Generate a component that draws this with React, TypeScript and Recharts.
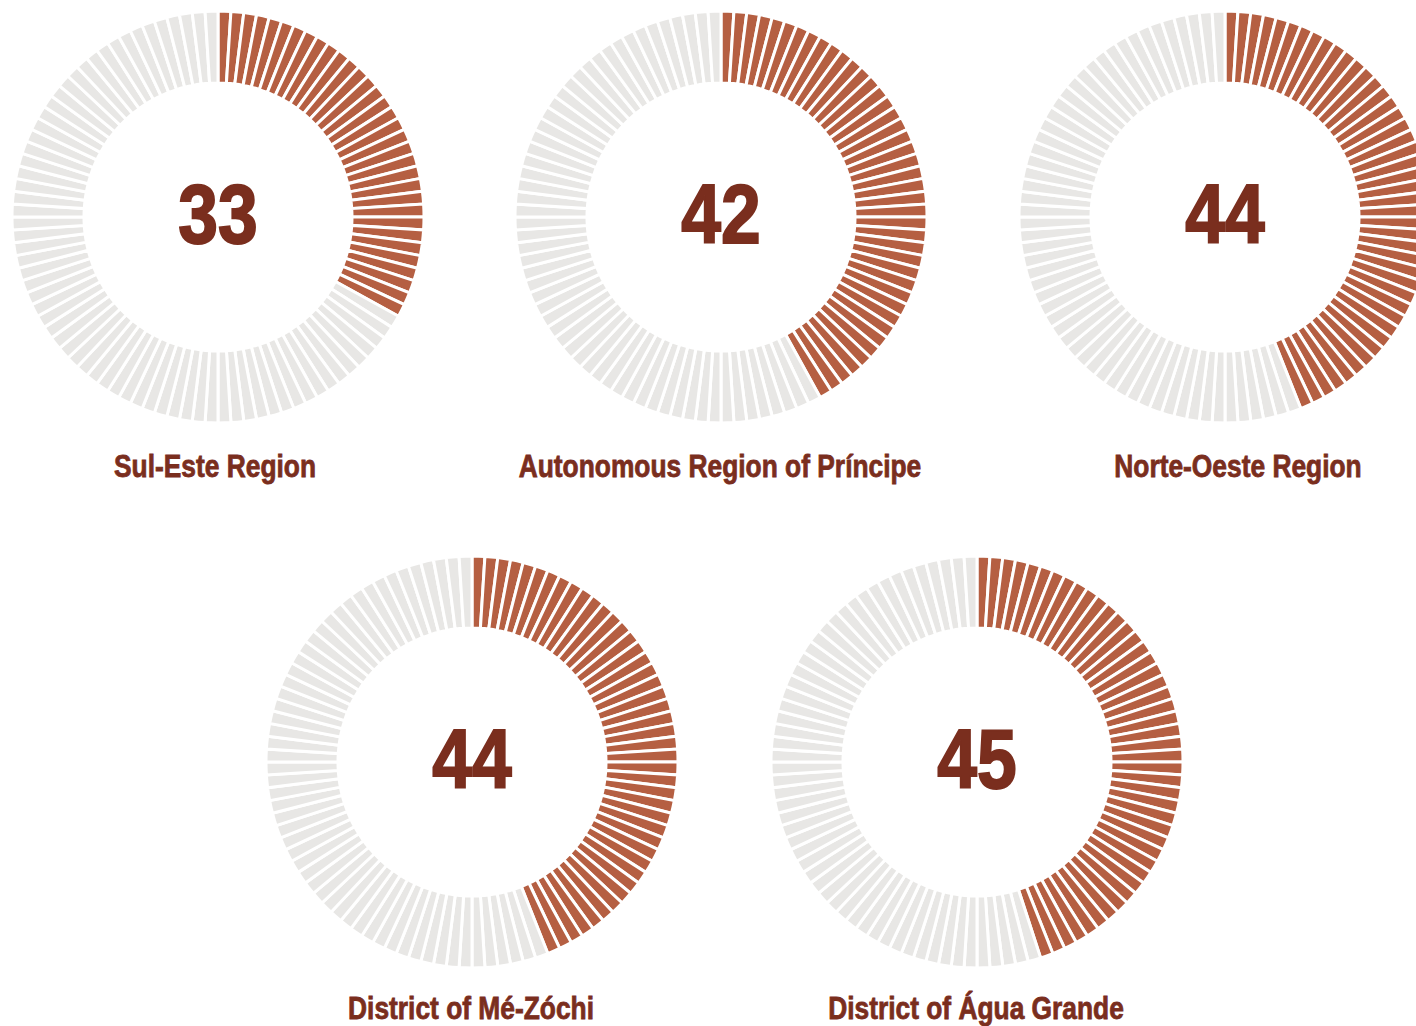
import React from 'react'
import { PieChart, Pie, Cell } from 'recharts';

// regions and their score out of 100
const regions = [
  'Sul-Este Region',
  'Autonomous Region of Príncipe',
  'Norte-Oeste Region',
  'District of Mé-Zóchi',
  'District of Água Grande',
];
const scores = [33, 42, 44, 44, 45];

const SEGMENTS = 100;

// layout for each donut (center + label position)
const layout = [
  { cx: 218, cy: 217, labelX: 215, labelTop: 449 },
  { cx: 721, cy: 217, labelX: 720, labelTop: 449 },
  { cx: 1225, cy: 217, labelX: 1238, labelTop: 449 },
  { cx: 472, cy: 762, labelX: 471, labelTop: 991 },
  { cx: 977, cy: 762, labelX: 976, labelTop: 991 },
];

const FILLED = '#b55f42';
const EMPTY = '#e8e7e5';
const TEXT = '#7a2e1e';
const FONT = '"Liberation Sans", Arial, sans-serif';
const SQUEEZE = 'scaleX(0.85)';

const segmentsFor = (score: number) =>
  Array.from({ length: SEGMENTS }, (_, i) => ({ name: `s${i}`, value: 1, on: i < score }));

const App: React.FC = () => {
  return (
    <div style={{ position: 'absolute', left: 0, top: 0, width: 1416, height: 1026, background: '#fff', overflow: 'hidden' }}>
      <PieChart width={1416} height={1026} margin={{ top: 0, right: 0, bottom: 0, left: 0 }}>
        {scores.map((score, idx) => (
          <Pie
            key={regions[idx]}
            data={segmentsFor(score)}
            dataKey="value"
            cx={layout[idx].cx}
            cy={layout[idx].cy}
            innerRadius={134}
            outerRadius={206}
            startAngle={90}
            endAngle={-270}
            stroke="#ffffff"
            strokeWidth={3}
            isAnimationActive={false}
          >
            {segmentsFor(score).map((d) => (
              <Cell key={d.name} fill={d.on ? FILLED : EMPTY} />
            ))}
          </Pie>
        ))}
      </PieChart>
      {scores.map((score, idx) => (
        <div
          key={`n${idx}`}
          style={{
            position: 'absolute',
            left: layout[idx].cx - 100,
            top: layout[idx].cy - 53,
            width: 200,
            textAlign: 'center',
            fontFamily: FONT,
            fontWeight: 'bold',
            fontSize: 84,
            lineHeight: '100px',
            color: TEXT,
            WebkitTextStroke: `2px ${TEXT}`,
            transform: SQUEEZE,
          }}
        >
          {score}
        </div>
      ))}
      {regions.map((name, idx) => (
        <div
          key={name}
          style={{
            position: 'absolute',
            left: layout[idx].labelX - 300,
            top: layout[idx].labelTop,
            width: 600,
            textAlign: 'center',
            fontFamily: FONT,
            fontWeight: 'bold',
            fontSize: 31,
            lineHeight: '36px',
            color: TEXT,
            WebkitTextStroke: `0.8px ${TEXT}`,
            transform: SQUEEZE,
          }}
        >
          {name}
        </div>
      ))}
    </div>
  )
}

export default App
